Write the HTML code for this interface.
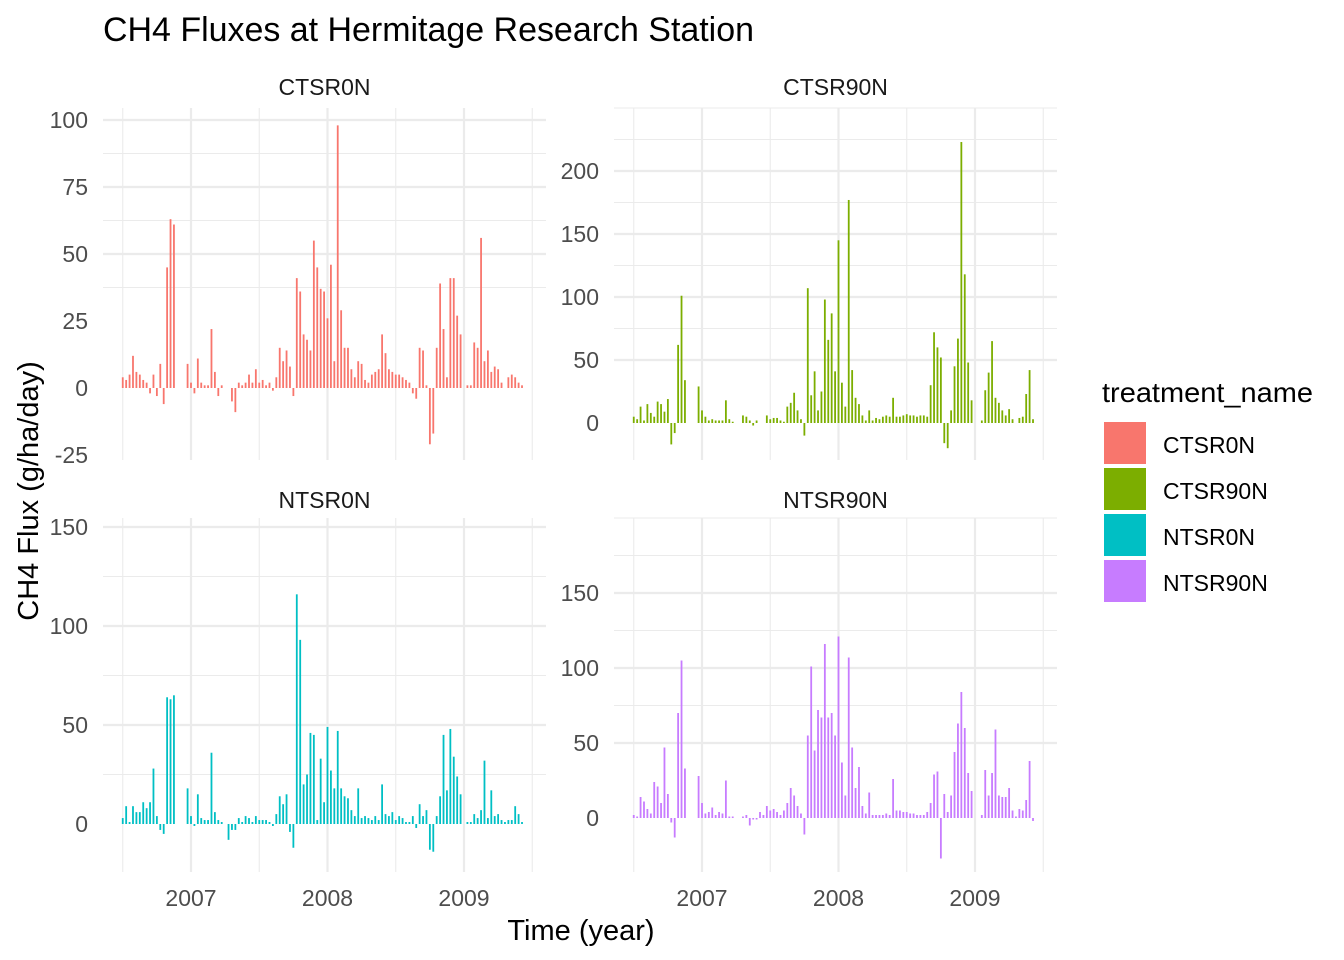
<!DOCTYPE html>
<html><head><meta charset="utf-8"><style>
html,body{margin:0;padding:0;background:#fff;}
svg{display:block;font-family:"Liberation Sans",Arial,sans-serif;}
</style></head><body>
<svg id="chart" width="1344" height="960" viewBox="0 0 1344 960">
<text x="103" y="41" font-size="34" fill="#000" textLength="651" lengthAdjust="spacingAndGlyphs">CH4 Fluxes at Hermitage Research Station</text>
<text x="581" y="940" font-size="29" text-anchor="middle" fill="#000">Time (year)</text>
<text transform="translate(38,491) rotate(-90)" font-size="29" text-anchor="middle" fill="#000">CH4 Flux (g/ha/day)</text>
<g id="panels"></g>
<g>
<text x="1102" y="402" font-size="28" fill="#000" textLength="211" lengthAdjust="spacingAndGlyphs">treatment_name</text>
<rect x="1104" y="422" width="42" height="42" fill="#F8766D"/>
<text x="1163" y="453" font-size="23" fill="#000">CTSR0N</text>
<rect x="1104" y="468" width="42" height="42" fill="#7CAE00"/>
<text x="1163" y="499" font-size="23" fill="#000">CTSR90N</text>
<rect x="1104" y="514" width="42" height="42" fill="#00BFC4"/>
<text x="1163" y="545" font-size="23" fill="#000">NTSR0N</text>
<rect x="1104" y="560" width="42" height="42" fill="#C77CFF"/>
<text x="1163" y="591" font-size="23" fill="#000">NTSR90N</text>
</g>
</svg>
<script>
const startYear = 2006.5;
const stepYear = 0.025;
const xTickLabels = ["2007","2008","2009"];
const xTickYears = [2007,2008,2009];
const ctsr0n = [4,3,5,12,6,5,3,2,-2,5,-3,9,-6,45,63,61,null,null,null,9,2,-2,11,2,1,1,22,6,-3,1,null,null,-5,-9,2,1,2,5,2,7,2,3,1,2,-1,4,15,10,14,8,-3,41,36,20,18,14,55,45,37,36,26,46,10,98,29,15,15,7,4,10,9,3,2,5,6,7,20,13,7,6,5,5,4,3,2,-2,-4,15,14,1,-21,-17,15,39,22,4,41,41,27,20,null,1,1,17,15,56,10,14,6,8,7,2,null,4,5,4,2,1];
const ctsr90n = [5,3,13,2,15,8,5,17,15,9,19,-17,-8,62,101,34,null,null,null,29,10,5,2,3,2,2,2,18,3,1,null,null,6,5,2,-2,2,null,null,6,3,4,4,2,1,13,16,24,10,3,-10,107,22,41,10,25,98,66,87,41,145,32,13,177,42,20,15,6,2,10,2,4,3,5,6,5,20,5,5,6,7,6,6,5,6,6,5,30,72,60,52,-16,-20,10,45,67,223,118,48,18,null,null,2,26,40,65,20,16,10,6,11,3,null,4,5,23,42,3];
const ntsr0n = [3,9,1,9,6,6,11,8,11,28,4,-3,-5,64,63,65,null,null,null,18,4,-1,15,3,2,2,36,6,2,1,null,-8,-3,-3,3,1,4,3,1,4,2,2,2,1,-1,5,14,10,15,-4,-12,116,93,20,25,46,45,2,33,11,49,27,18,47,18,14,13,7,4,18,3,4,3,2,4,2,20,5,4,6,2,4,3,1,1,4,-2,10,4,7,-13,-14,4,14,45,17,48,34,24,15,null,1,1,5,3,7,32,3,17,4,5,2,1,2,2,9,5,1];
const ntsr90n = [2,1,14,11,6,3,24,21,10,47,16,-3,-13,70,105,33,null,null,null,28,10,3,4,7,2,4,3,25,1,1,null,null,1,2,-5,-1,-1,4,2,8,5,6,4,2,5,10,20,15,8,3,-11,55,101,45,72,67,116,67,70,55,121,37,15,107,47,20,34,8,3,17,2,2,2,2,3,2,26,5,5,4,4,3,3,2,2,2,4,10,29,31,-27,16,4,15,44,63,84,60,30,18,null,null,2,32,15,30,59,15,14,14,20,5,1,6,5,12,38,-2];
const yTicksTL = ["-25","0","25","50","75","100"];
const yTicksTR = ["0","50","100","150","200"];
const yTicksBL = ["0","50","100","150"];
const yTicksBR = ["0","50","100","150"];

const NS = "http://www.w3.org/2000/svg";
const root = document.getElementById("panels");
function mk(tag, attrs, parent){const e=document.createElementNS(NS,tag);for(const k in attrs)e.setAttribute(k,attrs[k]);parent.appendChild(e);return e;}

const panels = [
 {name:"ctsr0n",label:"CTSR0N",data:ctsr0n,color:"#F8766D",x0:103,x1:546,y0:108,y1:460,zeroY:388,ppu:2.68,ticks:yTicksTL,minorStep:12.5,xYear2007:191,stripY:95,showX:false},
 {name:"ctsr90n",label:"CTSR90N",data:ctsr90n,color:"#7CAE00",x0:614,x1:1057,y0:108,y1:460,zeroY:423,ppu:1.26,ticks:yTicksTR,minorStep:25,xYear2007:702,stripY:95,showX:false},
 {name:"ntsr0n",label:"NTSR0N",data:ntsr0n,color:"#00BFC4",x0:103,x1:546,y0:518,y1:872,zeroY:824,ppu:1.98,ticks:yTicksBL,minorStep:25,xYear2007:191,stripY:508,showX:true},
 {name:"ntsr90n",label:"NTSR90N",data:ntsr90n,color:"#C77CFF",x0:614,x1:1057,y0:518,y1:872,zeroY:818,ppu:1.5,ticks:yTicksBR,minorStep:25,xYear2007:702,stripY:508,showX:true}
];

panels.forEach(p=>{
  const g = mk("g",{},root);
  
  
  const xs = t => p.xYear2007 + (t-2007)*136.5;
  const ys = v => p.zeroY - v*p.ppu;
  const vMin = (p.zeroY - p.y1)/-p.ppu, vMax = (p.zeroY - p.y0)/p.ppu;
  for(let v=Math.ceil(vMin/p.minorStep)*p.minorStep; v<=vMax; v+=p.minorStep){
    const y=ys(v); if(y<p.y0||y>p.y1) continue;
    const major = p.ticks.indexOf(String(v))>=0;
    const l=mk("line",{x1:p.x0,x2:p.x1,y1:y,y2:y,stroke:"#ebebeb","stroke-width":major?2.2:1.1},g);
    
    
  }
  [2006.5,2007.5,2008.5,2009.5].forEach(t=>{
    const x=xs(t);
    const l=mk("line",{x1:x,x2:x,y1:p.y0,y2:p.y1,stroke:"#ebebeb","stroke-width":1.1},g);
    
    
  });
  xTickYears.forEach((t,i)=>{
    const x=xs(t);
    const l=mk("line",{x1:x,x2:x,y1:p.y0,y2:p.y1,stroke:"#ebebeb","stroke-width":2.2},g);
    
    
    if(p.showX){
      const tx=mk("text",{x:x,y:906,"font-size":23,"text-anchor":"middle",fill:"#4d4d4d"},g);
      tx.textContent=xTickLabels[i];
      
      
    }
  });
  p.ticks.forEach(s=>{
    const tx=mk("text",{x:p.x0-15,y:ys(Number(s))+8,"font-size":23,"text-anchor":"end",fill:"#4d4d4d"},g);
    tx.textContent=s;
    
    
  });
  const st=mk("text",{x:(p.x0+p.x1)/2,y:p.stripY,"font-size":23,"text-anchor":"middle",fill:"#1a1a1a"},g);
  st.textContent=p.label;
  
  
  p.data.forEach((v,i)=>{
    if(v===null) return;
    const x=xs(startYear+i*stepYear);
    const y=Math.min(ys(v),p.zeroY), h=Math.max(Math.abs(v*p.ppu),0.8);
    const r=mk("rect",{x:x-0.9,y:y,width:1.8,height:h,fill:p.color},g);
    
    
  });
});
</script>
</body></html>
